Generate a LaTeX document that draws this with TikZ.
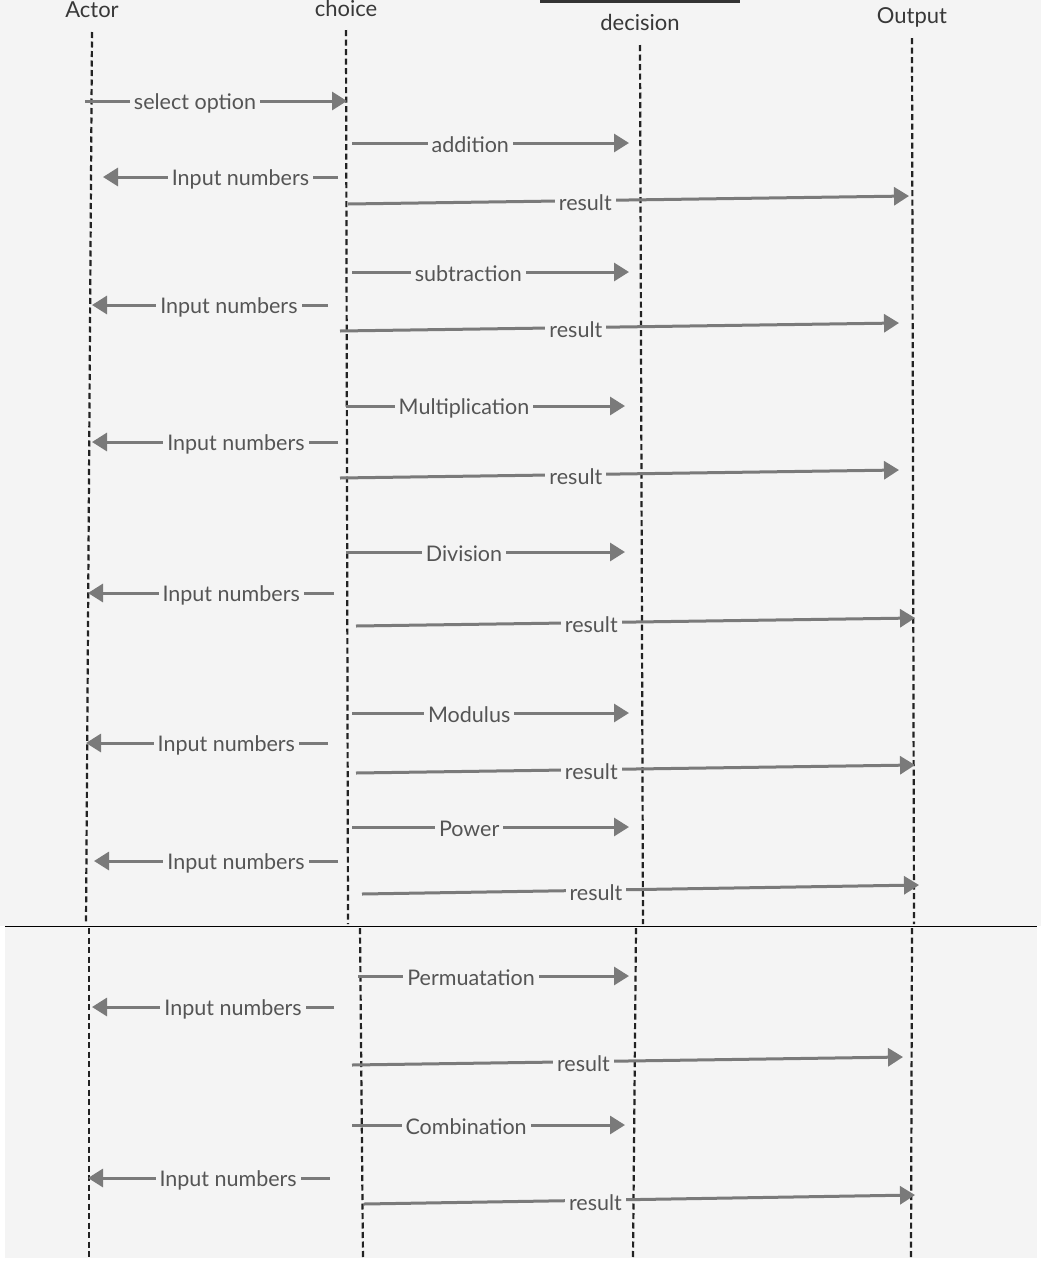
\documentclass[tikz,border=0pt]{standalone}
\usepackage{fontspec}
\setmainfont{Lato}
\usetikzlibrary{arrows.meta}
\definecolor{bg}{HTML}{F4F4F4}
\definecolor{arr}{HTML}{7A7A7A}
\definecolor{txt}{HTML}{555555}
\definecolor{life}{HTML}{222222}
\tikzset{
  msg/.style={draw=arr, line width=3pt, -{Triangle[length=15pt,width=18pt]}},
  lbl/.style={fill=bg, text=txt, inner xsep=4pt, inner ysep=3pt, yshift=-2pt, font=\fontsize{21.5}{25}\selectfont},
  head/.style={text=life!90, inner sep=0pt, font=\fontsize{22}{26}\selectfont},
  lifeline/.style={draw=life, line width=2.2pt, dash pattern=on 6pt off 3.5pt},
}
\begin{document}
\begin{tikzpicture}[x=1pt,y=-1pt]
\useasboundingbox (0,0) rectangle (1041,1280);
\fill[white] (0,0) rectangle (1041,1280);
\fill[bg] (0,0) rectangle (1041,926);
\fill[bg] (5,926) rectangle (1037,1258);
\fill[black!80] (540,0) rectangle (740,2.5);
\draw[black, line width=1pt] (5,926) -- (1037,926);
% heads
\node[head] (actor) at (92,10) {Actor};
\node[head] (choice) at (346,8) {choice};
\node[head] (decision) at (640,22) {decision};
\node[head] (output) at (912,17) {Output};
% lifeline coordinates
\coordinate (a1) at (92,32);  \coordinate (a2) at (86,924);
\coordinate (c1) at (346,30); \coordinate (c2) at (348,924);
\coordinate (d1) at (640,45); \coordinate (d2) at (643,924);
\coordinate (o1) at (912,38); \coordinate (o2) at (914,924);
\coordinate (a3) at (89,928);  \coordinate (a4) at (89,1258);
\coordinate (c3) at (360,928); \coordinate (c4) at (363,1258);
\coordinate (d3) at (636,928); \coordinate (d4) at (633,1258);
\coordinate (o3) at (912,928); \coordinate (o4) at (911,1258);
\foreach \p/\q in {a1/a2,c1/c2,d1/d2,o1/o2,a3/a4,c3/c4,d3/d4,o3/o4}
  \draw[lifeline] (\p) -- (\q);
% messages
\coordinate (m1s) at (85,101);   \coordinate (m1e) at (347,101);
\coordinate (m2s) at (352,143);  \coordinate (m2e) at (629,143);
\coordinate (m3s) at (338,177);  \coordinate (m3e) at (103,177);
\coordinate (m4s) at (348,204);  \coordinate (m4e) at (909,196);
\coordinate (m5s) at (352,272);  \coordinate (m5e) at (629,272);
\coordinate (m6s) at (328,305);  \coordinate (m6e) at (92,305);
\coordinate (m7s) at (340,331);  \coordinate (m7e) at (899,323);
\coordinate (m8s) at (346,406);  \coordinate (m8e) at (625,406);
\coordinate (m9s) at (338,442);  \coordinate (m9e) at (92,442);
\coordinate (m10s) at (340,478); \coordinate (m10e) at (899,470);
\coordinate (m11s) at (346,552); \coordinate (m11e) at (625,552);
\coordinate (m12s) at (334,593); \coordinate (m12e) at (88,593);
\coordinate (m13s) at (356,626); \coordinate (m13e) at (915,618);
\coordinate (m14s) at (352,713); \coordinate (m14e) at (629,713);
\coordinate (m15s) at (328,743); \coordinate (m15e) at (86,743);
\coordinate (m16s) at (356,773); \coordinate (m16e) at (915,765);
\coordinate (m17s) at (352,827); \coordinate (m17e) at (629,827);
\coordinate (m18s) at (338,861); \coordinate (m18e) at (94,861);
\coordinate (m19s) at (362,894); \coordinate (m19e) at (919,885);
\coordinate (m20s) at (358,976); \coordinate (m20e) at (629,976);
\coordinate (m21s) at (334,1007); \coordinate (m21e) at (92,1007);
\coordinate (m22s) at (352,1065); \coordinate (m22e) at (903,1057);
\coordinate (m23s) at (352,1125); \coordinate (m23e) at (625,1125);
\coordinate (m24s) at (330,1178); \coordinate (m24e) at (88,1178);
\coordinate (m25s) at (364,1204); \coordinate (m25e) at (915,1195);
\draw[msg] (m1s) -- node[lbl,pos=0.42] (l1) {select option} (m1e);
\draw[msg] (m2s) -- node[lbl,pos=0.427] (l2) {addition} (m2e);
\draw[msg] (m3s) -- node[lbl,pos=0.415] (l3) {Input numbers} (m3e);
\draw[msg] (m4s) -- node[lbl,pos=0.423] (l4) {result} (m4e);
\draw[msg] (m5s) -- node[lbl,pos=0.42] (l5) {subtraction} (m5e);
\draw[msg] (m6s) -- node[lbl,pos=0.42] (l6) {Input numbers} (m6e);
\draw[msg] (m7s) -- node[lbl,pos=0.422] (l7) {result} (m7e);
\draw[msg] (m8s) -- node[lbl,pos=0.423] (l8) {Multiplication} (m8e);
\draw[msg] (m9s) -- node[lbl,pos=0.415] (l9) {Input numbers} (m9e);
\draw[msg] (m10s) -- node[lbl,pos=0.422] (l10) {result} (m10e);
\draw[msg] (m11s) -- node[lbl,pos=0.423] (l11) {Division} (m11e);
\draw[msg] (m12s) -- node[lbl,pos=0.418] (l12) {Input numbers} (m12e);
\draw[msg] (m13s) -- node[lbl,pos=0.421] (l13) {result} (m13e);
\draw[msg] (m14s) -- node[lbl,pos=0.423] (l14) {Modulus} (m14e);
\draw[msg] (m15s) -- node[lbl,pos=0.42] (l15) {Input numbers} (m15e);
\draw[msg] (m16s) -- node[lbl,pos=0.421] (l16) {result} (m16e);
\draw[msg] (m17s) -- node[lbl,pos=0.423] (l17) {Power} (m17e);
\draw[msg] (m18s) -- node[lbl,pos=0.418] (l18) {Input numbers} (m18e);
\draw[msg] (m19s) -- node[lbl,pos=0.42] (l19) {result} (m19e);
\draw[msg] (m20s) -- node[lbl,pos=0.417] (l20) {Permuatation} (m20e);
\draw[msg] (m21s) -- node[lbl,pos=0.417] (l21) {Input numbers} (m21e);
\draw[msg] (m22s) -- node[lbl,pos=0.42] (l22) {result} (m22e);
\draw[msg] (m23s) -- node[lbl,pos=0.418] (l23) {Combination} (m23e);
\draw[msg] (m24s) -- node[lbl,pos=0.421] (l24) {Input numbers} (m24e);
\draw[msg] (m25s) -- node[lbl,pos=0.42] (l25) {result} (m25e);
\end{tikzpicture}
\end{document}
